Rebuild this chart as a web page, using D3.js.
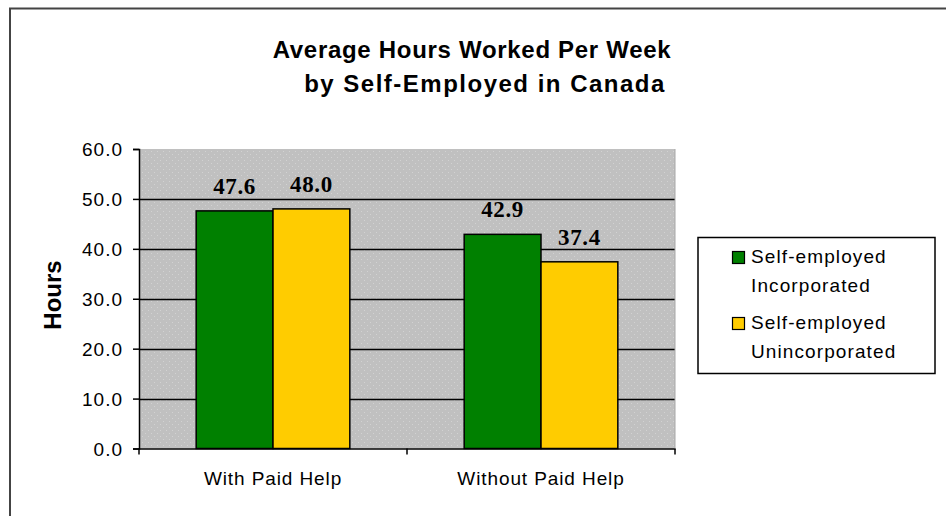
<!DOCTYPE html>
<html><head><meta charset="utf-8">
<script src="https://cdn.jsdelivr.net/npm/d3@7"></script>
<style>html,body{margin:0;padding:0;background:#fff;}svg{display:block;}</style>
</head><body>
<script>
const categories = ["With Paid Help", "Without Paid Help"];
const seriesNames = ["Self-employed Incorporated", "Self-employed Unincorporated"];
const legendLines = [["Self-employed", "Incorporated"], ["Self-employed", "Unincorporated"]];
const incorporated = [47.6, 42.9];
const unincorporated = [48.0, 37.4];
const yTicks = [0, 10, 20, 30, 40, 50, 60];
const titleLines = ["Average Hours Worked Per Week", "by Self-Employed in Canada"];
const colors = ["#008000", "#ffcc00"];

const W = 946, H = 516;
const svg = d3.select("body").append("svg").attr("width", W).attr("height", H);
const SANS = "'Liberation Sans', Arial, sans-serif";

// outer frame (extends past the visible window on right/bottom)
svg.append("rect").attr("x", 10).attr("y", 8.5).attr("width", 1000).attr("height", 600)
  .attr("fill", "#fff").attr("stroke", "#444").attr("stroke-width", 2);

const defs = svg.append("defs");
const pat = defs.append("pattern").attr("id", "dots").attr("width", 6).attr("height", 6)
  .attr("patternUnits", "userSpaceOnUse");
pat.append("rect").attr("width", 6).attr("height", 6).attr("fill", "#c0c0c0");
pat.append("rect").attr("x", 1).attr("y", 1).attr("width", 1).attr("height", 1).attr("fill", "#d2d2d2");
pat.append("rect").attr("x", 4).attr("y", 4).attr("width", 1).attr("height", 1).attr("fill", "#d2d2d2");

const plot = {left: 139, right: 675, top: 149, bottom: 448.5};
const x = d3.scaleBand().domain(categories).range([plot.left, plot.right]);
const xs = d3.scaleBand().domain([0, 1]).range([0, x.bandwidth()]).paddingInner(0).paddingOuter(0.7442);
const y = d3.scaleLinear().domain([0, 60]).range([plot.bottom, plot.top]);

svg.append("rect").attr("x", plot.left).attr("y", plot.top)
  .attr("width", plot.right - plot.left).attr("height", plot.bottom - plot.top)
  .attr("fill", "url(#dots)");

// gridlines
svg.append("g").selectAll("line").data(yTicks.filter(d => d > 0 && d < 60)).join("line")
  .attr("x1", plot.left).attr("x2", plot.right)
  .attr("y1", d => Math.round(y(d)) + 0.5).attr("y2", d => Math.round(y(d)) + 0.5)
  .attr("stroke", "#000").attr("stroke-width", 1.5);

// bars
const data = categories.map((c, i) => ({c, vals: [incorporated[i], unincorporated[i]]}));
const g = svg.append("g").selectAll("g").data(data).join("g")
  .attr("transform", d => `translate(${x(d.c)},0)`);
g.selectAll("rect").data(d => d.vals.map((v, k) => ({v, k}))).join("rect")
  .attr("x", d => xs(d.k)).attr("width", xs.bandwidth())
  .attr("y", d => y(d.v)).attr("height", d => y(0) - y(d.v))
  .attr("fill", d => colors[d.k]).attr("stroke", "#000").attr("stroke-width", 1.5);
g.selectAll("text").data(d => d.vals.map((v, k) => ({v, k}))).join("text")
  .attr("x", d => xs(d.k) + xs.bandwidth() / 2).attr("y", d => y(d.v) - 17)
  .attr("text-anchor", "middle")
  .style("font-family", "'Liberation Serif', 'Times New Roman', serif")
  .style("font-weight", "bold").style("font-size", "23px").style("letter-spacing", "0.6px")
  .attr("fill", "#000")
  .text(d => d.v.toFixed(1));

// y axis
const yAxis = d3.axisLeft(y).tickValues(yTicks).tickFormat(d3.format(".1f")).tickSize(6).tickPadding(10);
const ya = svg.append("g").attr("transform", `translate(${plot.left},0)`).call(yAxis);
ya.select(".domain").attr("stroke", "#000").attr("stroke-width", 1.5);
ya.selectAll(".tick line").attr("stroke", "#000").attr("stroke-width", 1.5);
ya.selectAll(".tick text").style("font-family", SANS)
  .style("font-size", "19px").style("letter-spacing", "1px").attr("fill", "#000").attr("dy", "0.36em");

// x axis
const xAxis = d3.axisBottom(x).tickSize(0).tickPadding(0);
const xa = svg.append("g").attr("transform", `translate(0,${plot.bottom})`).call(xAxis);
xa.select(".domain").attr("stroke", "#000").attr("stroke-width", 1.5);
xa.selectAll(".tick text").attr("y", 36).attr("dy", 0).style("font-family", SANS)
  .style("font-size", "19px").style("letter-spacing", "0.9px").attr("fill", "#000");
svg.append("g").selectAll("line").data([plot.left, plot.left + x.bandwidth(), plot.right]).join("line")
  .attr("x1", d => d).attr("x2", d => d).attr("y1", plot.bottom).attr("y2", plot.bottom + 6)
  .attr("stroke", "#000").attr("stroke-width", 1.5);

// right edge of plot area
svg.append("line").attr("x1", plot.right).attr("x2", plot.right).attr("y1", plot.top).attr("y2", plot.bottom)
  .attr("stroke", "#a8a8a8").attr("stroke-width", 1);

// y label
svg.append("text").attr("transform", "translate(61,295) rotate(-90)").attr("text-anchor", "middle")
  .style("font-family", SANS).style("font-weight", "bold")
  .style("font-size", "24px").text("Hours");

// title
const titleX = [472, 485];
const titleSpacing = ["0.7px", "1.5px"];
svg.append("g").selectAll("text").data(titleLines).join("text")
  .attr("x", (d, i) => titleX[i]).attr("y", (d, i) => 58 + i * 34).attr("text-anchor", "middle")
  .style("font-family", SANS).style("font-weight", "bold")
  .style("font-size", "24px").style("letter-spacing", (d, i) => titleSpacing[i]).text(d => d);

// legend
const lg = svg.append("g");
lg.append("rect").attr("x", 698).attr("y", 237.5).attr("width", 237).attr("height", 136)
  .attr("fill", "#fff").attr("stroke", "#000").attr("stroke-width", 1.5);
const li = lg.selectAll("g").data(seriesNames).join("g")
  .attr("transform", (d, i) => `translate(0,${i * 66})`);
li.append("rect").attr("x", 732.5).attr("y", 251.5).attr("width", 12).attr("height", 12)
  .attr("fill", (d, i) => colors[i]).attr("stroke", "#000").attr("stroke-width", 1.2);
li.selectAll("text").data((d, i) => legendLines[i]).join("text")
  .attr("x", 751).attr("y", (d, j) => 263 + j * 29)
  .style("font-family", SANS).style("font-size", "19px").style("letter-spacing", "1.1px")
  .attr("fill", "#000").text(d => d);
</script>
</body></html>
